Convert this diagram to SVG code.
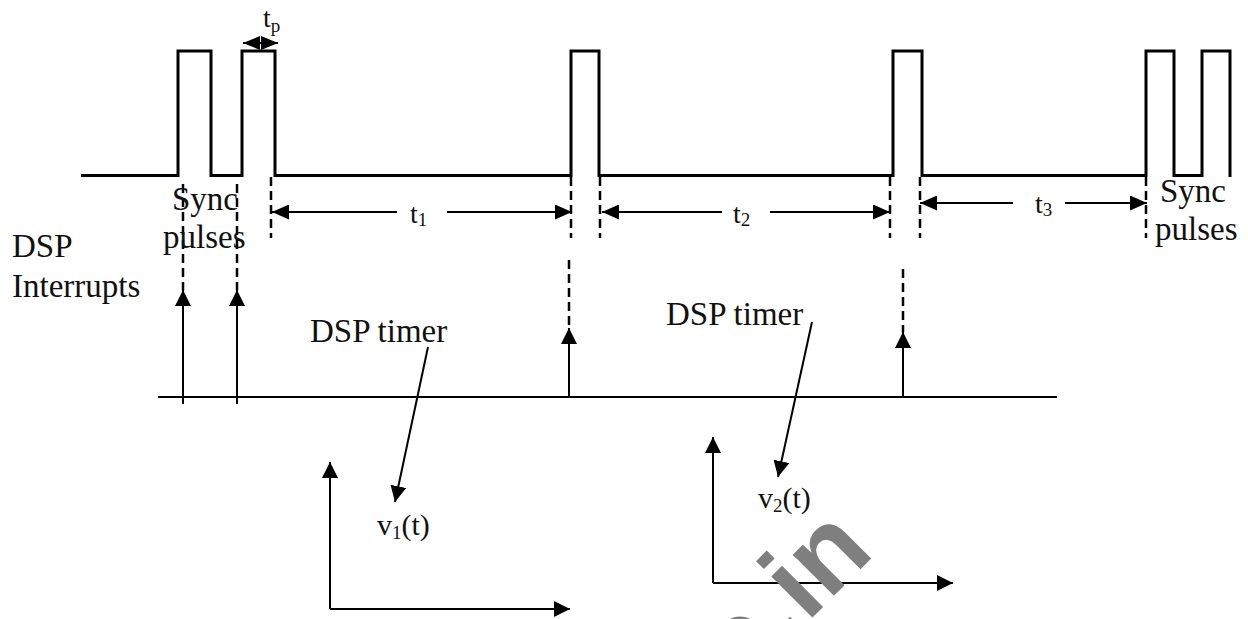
<svg xmlns="http://www.w3.org/2000/svg" width="1248" height="619" viewBox="0 0 1248 619">
<style>
.sig{fill:none;stroke:#000;stroke-width:3;stroke-linejoin:miter}
.dash{fill:none;stroke:#000;stroke-width:2.5;stroke-dasharray:9 5}
.ln{fill:none;stroke:#000;stroke-width:2}
.lbl{font-family:"Liberation Serif","Times New Roman",serif;font-size:33px;fill:#111}
.tl{font-family:"Liberation Serif","Times New Roman",serif;font-size:28px;fill:#111}
.sub{font-size:19px}
.wm{font-family:"Liberation Sans",Arial,sans-serif;font-weight:bold;font-size:110px;fill:#7f7f7f}
</style>
<defs>
<marker id="ah" viewBox="0 0 16 16" refX="16" refY="8" markerWidth="16" markerHeight="16" markerUnits="userSpaceOnUse" orient="auto-start-reverse"><path d="M0,0 L16,8 L0,16 z" fill="#000"/></marker>
<marker id="ahs" viewBox="0 0 17 15" refX="17" refY="7.5" markerWidth="17" markerHeight="15" markerUnits="userSpaceOnUse" orient="auto-start-reverse"><path d="M0,0 L17,7.5 L0,15 z" fill="#000"/></marker>
<marker id="aht" viewBox="0 0 17 14" refX="17" refY="7" markerWidth="17" markerHeight="14" markerUnits="userSpaceOnUse" orient="auto-start-reverse"><path d="M0,0 L17,7 L0,14 z" fill="#000"/></marker>
</defs>

<g id="signal">
<path class="sig" d="M81,175.5 H178 V51 H211 V175.5 H242 V51 H275 V175.5 H571 V51 H599 V175.5 H893 V51 H922 V175.5 H1146 V51 H1174 V175.5 H1202 V51 H1230 V177"/>
</g>

<g id="connectors">
<path class="dash" d="M183,184 V290 M237,184 V290 M271,177 V238 M571,177 V238 M600,177 V238 M569,260 V328 M890,177 V238 M920,177 V238 M903,269 V332 M1146,177 V238"/>
<line class="ln" x1="158" y1="397" x2="1057" y2="397"/>
<line class="ln" x1="183" y1="404" x2="183" y2="290" marker-end="url(#ah)"/>
<line class="ln" x1="237" y1="404" x2="237" y2="290" marker-end="url(#ah)"/>
<line class="ln" x1="569" y1="397" x2="569" y2="328" marker-end="url(#ah)"/>
<line class="ln" x1="903" y1="397" x2="903" y2="332" marker-end="url(#ah)"/>
<line class="ln" x1="243" y1="43" x2="278" y2="43" marker-start="url(#aht)" marker-end="url(#aht)"/>
<line class="ln" x1="397" y1="212" x2="272" y2="212" marker-end="url(#ahs)"/>
<line class="ln" x1="447" y1="212" x2="572" y2="212" marker-end="url(#ahs)"/>
<line class="ln" x1="722" y1="212" x2="602" y2="212" marker-end="url(#ahs)"/>
<line class="ln" x1="770" y1="212" x2="890" y2="212" marker-end="url(#ahs)"/>
<line class="ln" x1="1013" y1="203" x2="920" y2="203" marker-end="url(#ahs)"/>
<line class="ln" x1="1065" y1="203" x2="1147" y2="203" marker-end="url(#ahs)"/>
<line class="ln" x1="428" y1="347" x2="395" y2="502" marker-end="url(#ah)"/>
<line class="ln" x1="812" y1="322" x2="778" y2="477" marker-end="url(#ah)"/>
</g>

<g id="axes1">
<path class="ln" d="M330,609 V462" marker-end="url(#ah)"/>
<path class="ln" d="M330,609 H570" marker-end="url(#ah)"/>
</g>
<g id="axes2">
<path class="ln" d="M713,583 V437" marker-end="url(#ah)"/>
<path class="ln" d="M713,583 H953" marker-end="url(#ah)"/>
</g>

<g id="labels">
<text class="tl" x="263" y="27">t<tspan class="sub" dy="5">p</tspan></text>
<text class="lbl" x="12" y="257">DSP</text>
<text class="lbl" x="12" y="297">Interrupts</text>
<text class="lbl" x="172" y="210">Sync</text>
<text class="lbl" x="163" y="248">pulses</text>
<text class="tl" x="410" y="223">t<tspan class="sub" dy="3">1</tspan></text>
<text class="tl" x="733" y="223">t<tspan class="sub" dy="3">2</tspan></text>
<text class="tl" x="1035" y="213">t<tspan class="sub" dy="3">3</tspan></text>
<text class="lbl" x="1160" y="202">Sync</text>
<text class="lbl" x="1155" y="240">pulses</text>
<text class="lbl" x="310" y="342">DSP timer</text>
<text class="lbl" x="666" y="325">DSP timer</text>
<text class="lbl" x="377" y="535" style="font-size:30px">v<tspan class="sub" dy="4">1</tspan><tspan dy="-4">(t)</tspan></text>
<text class="lbl" x="758" y="508" style="font-size:30px">v<tspan class="sub" dy="4">2</tspan><tspan dy="-4">(t)</tspan></text>
</g>

<g id="watermark">
<text class="wm" transform="translate(737.8,692.1) rotate(-45)">o.in</text>
</g>
</svg>
